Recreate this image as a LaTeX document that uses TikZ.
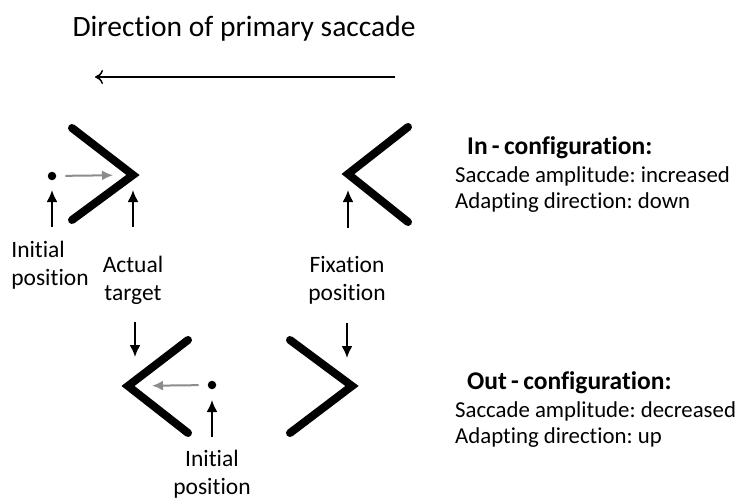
\documentclass[tikz,border=0pt]{standalone}
\usepackage{fontspec}
\setmainfont{Carlito}[Ligatures=NoCommon]
\frenchspacing
\usetikzlibrary{arrows.meta,calc}
\tikzset{
    chevron/.style={line width=8pt,line cap=round,line join=miter},
    pointer/.style={-{Latex[length=12pt,width=11pt]},line width=2pt},
    saccade/.style={-{Latex[length=11pt,width=10pt]},line width=2pt,gray!90},
    lbl/.style={font=\fontsize{23.5}{28}\selectfont,align=center,inner sep=0pt},
    head/.style={font=\fontsize{25.5}{28}\selectfont\bfseries,anchor=west,inner sep=0pt},
    body/.style={font=\fontsize{22.8}{26}\selectfont,align=left,anchor=west,inner sep=0pt}
}
\begin{document}
\begin{tikzpicture}[x=1pt,y=-1pt]
            \useasboundingbox (0,0) rectangle (744,500);
            \node[font=\fontsize{29.5}{32}\selectfont] (title) at (244,29) {Direction of primary saccade};
            \coordinate (dirS) at (395,77);
            \coordinate (dirE) at (95,77);
            \path [-{To[length=8pt,width=14pt]},line width=1.5pt] (dirS) edge (dirE);
            % chevrons
            \draw[chevron] (72,128) -- (133,175) coordinate (tipA) -- (72,220);
            \draw[chevron] (408,127) -- (348,174) coordinate (tipB) -- (408,222);
            \draw[chevron] (188,340) -- (128,386) coordinate (tipC) -- (188,433);
            \draw[chevron] (290,340) -- (352,386) coordinate (tipD) -- (290,433);
            \begin{scope}[every node/.style={circle,fill,inner sep=0pt,minimum size=8.5pt}]
                \node (dotA) at (52,176) {};
                \node (dotB) at (212,385) {};
            \end{scope}
            \begin{scope}[every node/.style={lbl}]
                \node[align=left] (initA) at (50,265) {Initial\\position};
                \node (actual) at (133,280) {Actual\\target};
                \node (fixation) at (347,280) {Fixation\\position};
                \node (initB) at (212,474) {Initial\\position};
            \end{scope}
            \path [saccade] (dotA) edge [shorten <=9pt,shorten >=20pt] (tipA);
            \path [saccade] (dotB) edge [shorten <=9pt,shorten >=24pt] (tipC);
            \coordinate (upA) at (52,227);
            \coordinate (upB) at (133,227);
            \coordinate (upC) at (348,228);
            \coordinate (upD) at (212,437);
            \coordinate (dnA) at (135,322);
            \coordinate (dnB) at (347,323);
            \path [pointer] (upA) edge ($(dotA)+(0,14)$);
            \path [pointer] (upB) edge ($(tipA)+(0,15)$);
            \path [pointer] (upC) edge ($(tipB)+(0,16)$);
            \path [pointer] (upD) edge ($(dotB)+(0,15)$);
            \path [pointer] (dnA) edge ($(tipC)+(7,-29)$);
            \path [pointer] (dnB) edge ($(tipD)+(-5,-28)$);
            % configurations
            \node[head] (inHead) at (467,148) {In\,-\,configuration:};
            \node[body] (inBody) at (455,190) {Saccade amplitude: increased\\Adapting direction: down};
            \node[head] (outHead) at (467,383) {Out\,-\,configuration:};
            \node[body] (outBody) at (455,425) {Saccade amplitude: decreased\\Adapting direction: up};
\end{tikzpicture}
\end{document}
